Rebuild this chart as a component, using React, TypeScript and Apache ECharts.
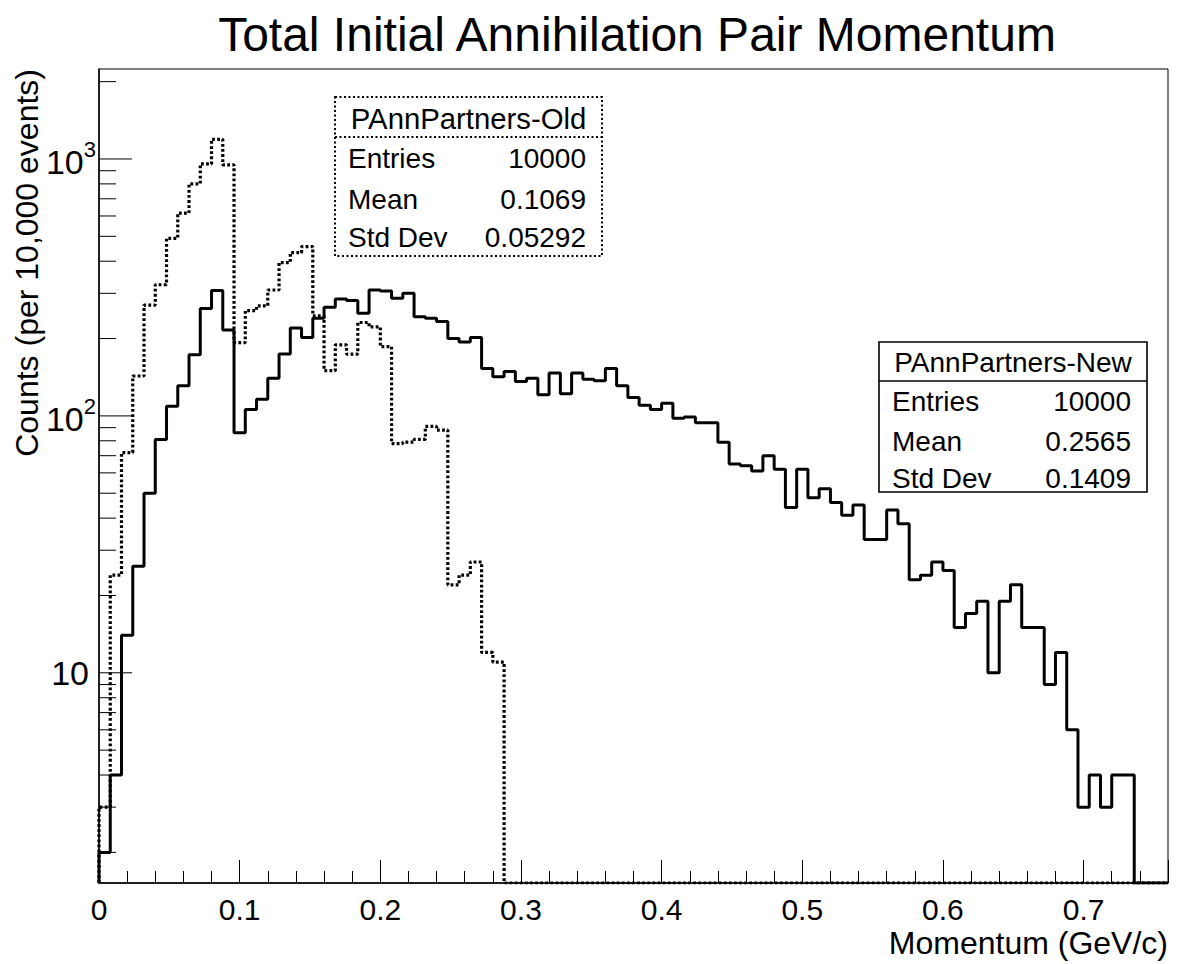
import React, { useEffect, useRef } from "react";
import * as echarts from "echarts";

// ---- data ----
const BIN_WIDTH = 0.008; // 95 bins over [0, 0.76]
const X_MIN = 0;
const X_MAX = 0.76;
const Y_MIN = 1.52;
const Y_MAX = 2240;

const NEW_COUNTS = [
  2, 4, 14, 26, 50, 81, 109, 131, 173, 262, 308, 216,
  86, 106, 116, 140, 174, 220, 202, 240, 265, 285,
  281, 251, 309, 306, 287, 300, 243, 240, 233, 200, 194, 202,
  153, 142, 149, 136, 140, 121, 147, 122, 147, 139, 137, 153,
  131, 118, 110, 106, 112, 98, 99, 94, 94, 79, 65, 64,
  61, 70, 62, 44, 62, 48, 52, 46, 41, 45, 33, 33,
  43, 38, 23, 24, 27, 25, 15, 17, 19, 10, 19, 22, 15, 15, 9, 12, 6, 3, 4, 3, 4, 4,
  0, 0, 0,
];

const OLD_COUNTS = [
  3, 24, 72, 143, 270, 324, 491, 615, 800, 957, 1193, 948,
  193, 257, 268, 309, 395, 432, 456, 245, 150, 189,
  174, 231, 222, 186, 78, 79, 81, 91, 88,
  22, 24, 27, 12, 11,
  0, 0, 0, 0, 0, 0, 0, 0, 0, 0, 0, 0, 0, 0, 0, 0, 0, 0, 0, 0,
  0, 0, 0, 0, 0, 0, 0, 0, 0, 0, 0, 0, 0, 0, 0, 0, 0, 0, 0, 0,
  0, 0, 0, 0, 0, 0, 0, 0, 0, 0, 0, 0, 0, 0, 0, 0, 0, 0, 0,
];

const Y_MAJOR_TICKS = [10, 100, 1000];
const Y_MINOR_TICKS = [
  2, 3, 4, 5, 6, 7, 8, 9,
  20, 30, 40, 50, 60, 70, 80, 90,
  200, 300, 400, 500, 600, 700, 800, 900,
  2000,
];

const TITLE = "Total Initial Annihilation Pair Momentum";
const X_TITLE = "Momentum (GeV/c)";
const Y_TITLE = "Counts (per 10,000 events)";

const STAT_LABELS = ["Entries", "Mean", "Std Dev"];
const OLD_NAME = "PAnnPartners-Old";
const OLD_VALUES = ["10000", "0.1069", "0.05292"];
const NEW_NAME = "PAnnPartners-New";
const NEW_VALUES = ["10000", "0.2565", "0.1409"];

const FONT = "'Liberation Sans', Arial, Helvetica, sans-serif";

function stepPoints(counts: number[]) {
  const pts: number[][] = [[X_MIN, Y_MIN]];
  counts.forEach((c, k) => pts.push([k * BIN_WIDTH, c > 0 ? c : Y_MIN]));
  const last = counts[counts.length - 1];
  pts.push([counts.length * BIN_WIDTH, last > 0 ? last : Y_MIN]);
  return pts;
}

function statBox(
  x: number, y: number, w: number, h: number, divY: number,
  titleY: number, titleSize: number, rowYs: number[], name: string, values: string[], dotted: boolean
) {
  const dash = dotted ? [2, 2.5] : null;
  const lw = dotted ? 2 : 1.6;
  const children: any[] = [
    { type: "rect", shape: { x, y, width: w, height: h }, style: { stroke: "#000", lineWidth: lw, lineDash: dash, fill: "#fff" } },
    { type: "line", shape: { x1: x, y1: y + divY, x2: x + w, y2: y + divY }, style: { stroke: "#000", lineWidth: lw, lineDash: dash } },
    { type: "text", x: x + w / 2, y: y + titleY, style: { text: name, font: `${titleSize}px ${FONT}`, fill: "#000", align: "center", verticalAlign: "middle" } },
  ];
  STAT_LABELS.forEach((lab, i) => {
    children.push({ type: "text", x: x + 13, y: y + rowYs[i], style: { text: lab, font: `28px ${FONT}`, fill: "#000", align: "left", verticalAlign: "middle" } });
    children.push({ type: "text", x: x + w - 16, y: y + rowYs[i], style: { text: values[i], font: `28px ${FONT}`, fill: "#000", align: "right", verticalAlign: "middle" } });
  });
  return { type: "group", children, z: 100 };
}

export default function App() {
  const ref = useRef<HTMLDivElement>(null);
  useEffect(() => {
    if (!ref.current) return;
    const chart = echarts.init(ref.current, null, { renderer: "svg" });
    const tickData = [
      ...Y_MAJOR_TICKS.map((v) => [0, v, 1]),
      ...Y_MINOR_TICKS.map((v) => [0, v, 0]),
    ];
    chart.setOption({
      animation: false,
      backgroundColor: "#fff",
      grid: {
        left: 99, top: 69, right: 28, bottom: 81,
        containLabel: false,
        outerBoundsMode: "none",
        show: true, borderColor: "#000", borderWidth: 1, backgroundColor: "transparent",
      },
      xAxis: {
        type: "value",
        min: X_MIN,
        max: X_MAX,
        interval: 0.1,
        axisLine: { show: true, onZero: false, lineStyle: { color: "#000", width: 1.5 } },
        axisTick: { show: true, inside: true, length: 23, lineStyle: { color: "#000", width: 1 } },
        minorTick: { show: true, splitNumber: 5, length: 12, lineStyle: { color: "#000", width: 1 } },
        splitLine: { show: false },
        minorSplitLine: { show: false },
        axisLabel: {
          showMaxLabel: false,
          margin: 12,
          lineHeight: 28,
          fontFamily: FONT, fontSize: 30, color: "#000",
          formatter: (v: number) => (Math.abs(v) < 1e-9 ? "0" : v.toFixed(1)),
        },
      },
      yAxis: {
        type: "log",
        logBase: 10,
        min: Y_MIN,
        max: Y_MAX,
        axisLine: { show: true, onZero: false, lineStyle: { color: "#000", width: 1.5 } },
        axisTick: { show: false },
        splitLine: { show: false },
        axisLabel: {
          showMinLabel: false,
          showMaxLabel: false,
          margin: 3,
          fontFamily: FONT, fontSize: 34, color: "#000",
          formatter: (v: number) => {
            const e = Math.round(Math.log10(v));
            if (Math.abs(v - Math.pow(10, e)) / v > 0.01) return "";
            if (e === 1) return "{t|10}";
            return "{b|10}{s|" + e + "}";
          },
          rich: {
            t: { fontFamily: FONT, fontSize: 34, color: "#000", lineHeight: 40, padding: [0, 7, 0, 0] },
            b: { fontFamily: FONT, fontSize: 34, color: "#000", lineHeight: 40, verticalAlign: "bottom" },
            s: { fontFamily: FONT, fontSize: 22, color: "#000", lineHeight: 40, verticalAlign: "top" },
          },
        },
      },
      series: [
        {
          name: "PAnnPartners-Old",
          type: "line",
          step: "end",
          data: stepPoints(OLD_COUNTS),
          showSymbol: false,
          symbol: "none",
          clip: true,
          lineStyle: { color: "#000", width: 3.2, type: [2.8, 2.3] },
          z: 3,
        },
        {
          name: "PAnnPartners-New",
          type: "line",
          step: "end",
          data: stepPoints(NEW_COUNTS),
          showSymbol: false,
          symbol: "none",
          clip: true,
          lineStyle: { color: "#000", width: 3, type: "solid" },
          z: 2,
        },
        {
          name: "yticks",
          type: "custom",
          coordinateSystem: "cartesian2d",
          clip: false,
          silent: true,
          z: 4,
          encode: { x: 0, y: 1 },
          data: tickData,
          renderItem: (params: any, api: any) => {
            const p = api.coord([0, api.value(1)]);
            const len = api.value(2) === 1 ? 33 : 17;
            return {
              type: "line",
              shape: { x1: p[0], y1: p[1], x2: p[0] + len, y2: p[1] },
              style: { stroke: "#000", lineWidth: 1 },
            };
          },
        },
      ],
      graphic: [
        {
          type: "text",
          x: 637,
          y: 34,
          z: 100,
          style: { text: TITLE, font: `48px ${FONT}`, fill: "#000", align: "center", verticalAlign: "middle" },
        },
        {
          type: "text",
          x: 1168,
          y: 943,
          z: 100,
          style: { text: X_TITLE, font: `32px ${FONT}`, lineHeight: 30, fill: "#000", align: "right", verticalAlign: "middle" },
        },
        {
          type: "text",
          x: 27,
          y: 69,
          rotation: Math.PI / 2,
          z: 100,
          style: { text: Y_TITLE, font: `32px ${FONT}`, fill: "#000", align: "right", verticalAlign: "middle" },
        },
        statBox(335, 97, 267, 159, 40, 21, 29.3, [61, 102, 140.5], OLD_NAME, OLD_VALUES, true),
        statBox(879, 342, 268, 150, 39, 20, 28, [59, 99, 136], NEW_NAME, NEW_VALUES, false),
      ],
    });
    return () => chart.dispose();
  }, []);
  return (
    <div
      ref={ref}
      style={{ position: "absolute", left: 0, top: 0, width: 1196, height: 964 }}
    />
  );
}
